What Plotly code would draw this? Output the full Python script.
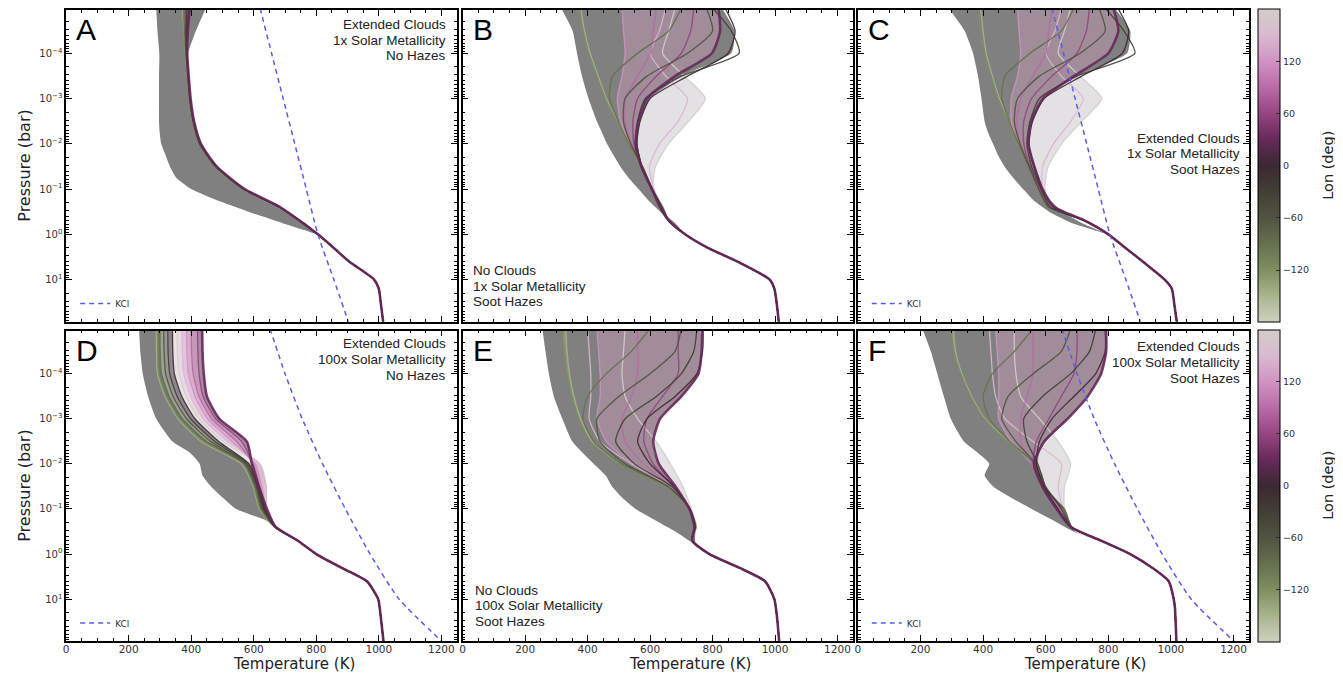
import plotly.graph_objects as go
from plotly.colors import sample_colorscale, unlabel_rgb

W, H = 1343, 681
OFF = 8  # browser page margin

# ---------------- data ----------------
LON = [-150, -120, -90, -60, -30, 0, 30, 60, 90, 120, 150, 180]
P_UP = [1e-5, 3.2e-5, 1e-4, 3.2e-4, 1e-3, 3.2e-3, 1e-2, 3.2e-2, 0.1, 0.25]
P_DEEP = [0.5, 1.0, 2.0, 4.0, 10.0, 16.0, 32.0, 100.0]
ENV_P = [1e-5, 3.2e-5, 1e-4, 3.2e-4, 1e-3, 3.2e-3, 5.6e-3, 1e-2, 1.8e-2,
         3.2e-2, 5.6e-2, 0.1, 0.18, 0.32, 0.56, 1.0]
KCL_P = [1e-5, 1e-4, 1e-3, 1e-2, 0.1, 1, 10, 100]
KCL_T_1X = [620, 657, 694, 731, 768, 805, 856, 906]
KCL_T_100X = [652, 700, 755, 820, 893, 972, 1065, 1212]

# Panel A: Extended clouds, 1x, no hazes
T_UP_A = [
    [372, 376, 382, 388, 394, 405, 426, 476, 565, 679],
    [368, 374, 381, 387, 393, 404, 425, 475, 564, 678],
    [375, 378, 383, 388, 394, 405, 426, 477, 566, 680],
    [380, 381, 384, 389, 395, 406, 427, 478, 567, 681],
    [385, 384, 385, 390, 396, 407, 428, 479, 568, 681],
    [392, 387, 386, 391, 397, 408, 430, 481, 570, 683],
    [396, 389, 387, 392, 398, 409, 431, 482, 571, 684],
    [390, 386, 386, 391, 397, 408, 430, 481, 570, 683],
    [383, 383, 385, 390, 396, 407, 429, 480, 569, 682],
    [378, 380, 384, 389, 395, 406, 428, 479, 568, 681],
    [374, 378, 383, 389, 395, 406, 427, 478, 567, 680],
    [371, 377, 382, 388, 394, 405, 427, 477, 566, 680],
]
T_DEEP_A = [747, 805, 856, 905, 985, 1000, 1006, 1015]
ENV_LEFT_A = [288, 292, 298, 297, 297, 297, 299, 304, 318, 332, 352, 400, 485, 585, 690, 805]
ENV_RIGHT_A = [447, 415, 390, 390, 396, 407, 415, 428, 448, 478, 515, 567, 630, 705, 765, 805]

# Panel B: no clouds, 1x, soot hazes
T_UP_B = [
    [378, 390, 408, 434, 460, 496, 534, 576, 607, 640],
    [371, 385, 403, 430, 456, 493, 531, 574, 606, 639],
    [700, 660, 560, 480, 470, 498, 533, 575, 607, 640],
    [780, 800, 720, 590, 520, 515, 538, 576, 607, 638],
    [800, 860, 885, 700, 585, 560, 552, 572, 604, 635],
    [840, 872, 850, 720, 600, 568, 558, 574, 606, 634],
    [819, 824, 798, 680, 590, 563, 555, 572, 606, 632],
    [740, 730, 700, 620, 560, 545, 548, 572, 606, 634],
    [620, 610, 600, 560, 520, 520, 540, 574, 606, 636],
    [510, 515, 520, 510, 495, 505, 536, 575, 607, 638],
    [650, 630, 600, 650, 720, 690, 630, 598, 612, 640],
    [680, 660, 640, 710, 777, 723, 659, 617, 610, 642],
]
T_DEEP_B = [660, 712, 785, 880, 983, 998, 1005, 1013]
ENV_LEFT_B = [315, 352, 366, 382, 403, 430, 446, 462, 483, 505, 531, 563, 595, 633, 668, 712]
ENV_RIGHT_B = [830, 870, 860, 700, 600, 568, 560, 560, 566, 575, 590, 608, 622, 640, 680, 712]

# Panel C: extended clouds, 1x, soot hazes
T_UP_C = [
    [392, 400, 410, 430, 452, 484, 515, 546, 578, 610],
    [384, 392, 405, 426, 448, 480, 512, 544, 576, 608],
    [690, 650, 550, 470, 460, 484, 514, 545, 577, 610],
    [770, 790, 710, 580, 510, 500, 518, 548, 578, 610],
    [790, 850, 885, 700, 580, 550, 540, 555, 585, 615],
    [830, 865, 845, 715, 595, 558, 547, 562, 588, 625],
    [816, 832, 800, 690, 592, 553, 545, 564, 590, 628],
    [740, 730, 700, 620, 555, 530, 530, 550, 582, 622],
    [620, 610, 600, 560, 520, 508, 518, 546, 578, 615],
    [510, 515, 520, 510, 490, 490, 514, 545, 577, 612],
    [650, 630, 600, 650, 720, 680, 625, 590, 590, 615],
    [680, 660, 640, 710, 779, 715, 651, 608, 597, 618],
]
T_DEEP_C = [725, 800, 855, 910, 980, 1003, 1010, 1020]
ENV_LEFT_C = [290, 341, 368, 384, 395, 405, 416, 432, 448, 469, 496, 528, 562, 612, 683, 800]
ENV_RIGHT_C = [820, 870, 860, 700, 595, 560, 548, 548, 552, 566, 580, 592, 615, 655, 715, 800]

# Panel D: extended clouds, 100x, no hazes
T_UP_D = [
    [288, 289, 292, 316, 358, 432, 560, 598, 618, 666],
    [292, 293, 296, 320, 362, 438, 565, 600, 620, 666],
    [300, 301, 305, 330, 372, 450, 570, 604, 624, 667],
    [312, 313, 318, 342, 385, 462, 575, 608, 628, 668],
    [325, 326, 331, 355, 398, 475, 580, 612, 632, 668],
    [340, 341, 346, 370, 412, 488, 585, 615, 636, 669],
    [435, 436, 440, 450, 490, 578, 594, 616, 642, 670],
    [420, 421, 425, 438, 478, 562, 596, 618, 642, 670],
    [400, 401, 406, 425, 465, 545, 598, 620, 641, 670],
    [385, 386, 391, 412, 452, 530, 605, 625, 640, 670],
    [370, 371, 376, 398, 438, 516, 620, 640, 642, 670],
    [355, 356, 361, 384, 425, 502, 612, 635, 640, 670],
]
T_DEEP_D = [740, 800, 880, 962, 998, 1003, 1008, 1016]
ENV_LEFT_D = [233, 237, 245, 262, 288, 340, 395, 427, 436, 464, 501, 544, 640, 693, 752, 800]
ENV_RIGHT_D = [300, 300, 305, 330, 372, 450, 520, 575, 600, 615, 630, 640, 650, 693, 752, 800]

# Panel E: no clouds, 100x, soot hazes
T_UP_E = [
    [330, 334, 342, 356, 378, 415, 505, 652, 728, 748],
    [319, 325, 335, 350, 372, 410, 500, 650, 726, 746],
    [600, 540, 460, 400, 385, 420, 508, 655, 728, 746],
    [700, 680, 600, 500, 430, 440, 520, 660, 728, 745],
    [750, 740, 700, 620, 520, 490, 550, 670, 728, 744],
    [770, 768, 750, 680, 590, 560, 600, 678, 727, 743],
    [767, 765, 755, 700, 632, 610, 628, 682, 726, 742],
    [690, 690, 690, 640, 590, 580, 610, 676, 726, 743],
    [560, 560, 560, 540, 510, 520, 580, 668, 727, 745],
    [430, 435, 440, 440, 430, 460, 545, 660, 727, 746],
    [400, 405, 410, 410, 405, 440, 540, 665, 728, 747],
    [520, 515, 510, 520, 560, 620, 665, 705, 732, 748],
]
T_DEEP_E = [735, 790, 885, 968, 998, 1003, 1008, 1014]
ENV_LEFT_E = [255, 265, 276, 292, 319, 351, 383, 420, 458, 479, 511, 554, 618, 682, 735, 790]
ENV_RIGHT_E = [760, 768, 755, 700, 630, 608, 612, 628, 650, 682, 705, 726, 742, 745, 745, 790]

# Panel F: extended clouds, 100x, soot hazes
T_UP_F = [
    [305, 312, 332, 364, 406, 482, 565, 586, 660, 684],
    [297, 307, 329, 361, 403, 478, 563, 584, 659, 682],
    [560, 500, 430, 400, 420, 485, 565, 590, 660, 683],
    [680, 650, 560, 480, 460, 505, 568, 595, 655, 682],
    [760, 740, 680, 590, 530, 540, 575, 600, 650, 680],
    [790, 790, 760, 690, 620, 580, 570, 595, 640, 680],
    [793, 793, 777, 734, 670, 595, 563, 590, 635, 680],
    [700, 700, 690, 650, 610, 570, 560, 588, 638, 681],
    [560, 560, 560, 540, 520, 520, 555, 590, 645, 682],
    [440, 445, 450, 450, 450, 490, 555, 592, 650, 683],
    [420, 425, 430, 440, 470, 560, 650, 640, 655, 683],
    [500, 500, 505, 520, 580, 640, 680, 660, 660, 684],
]
T_DEEP_F = [776, 870, 940, 993, 1009, 1013, 1015, 1018]
ENV_LEFT_F = [206, 233, 254, 275, 297, 339, 382, 420, 405, 433, 490, 555, 625, 690, 790, 870]
ENV_RIGHT_F = [790, 795, 777, 734, 670, 600, 580, 575, 590, 600, 630, 660, 672, 695, 800, 870]

PANEL_LETTERS = ["A", "B", "C", "D", "E", "F"]
CONDITIONS = [
    ["Extended Clouds", "1x Solar Metallicity", "No Hazes"],
    ["No Clouds", "1x Solar Metallicity", "Soot Hazes"],
    ["Extended Clouds", "1x Solar Metallicity", "Soot Hazes"],
    ["Extended Clouds", "100x Solar Metallicity", "No Hazes"],
    ["No Clouds", "100x Solar Metallicity", "Soot Hazes"],
    ["Extended Clouds", "100x Solar Metallicity", "Soot Hazes"],
]
Y_TICK_VALS = [1e-4, 1e-3, 1e-2, 1e-1, 1, 10]
Y_TICK_TEXT = ["10<sup>\u22124</sup>", "10<sup>\u22123</sup>", "10<sup>\u22122</sup>",
               "10<sup>\u22121</sup>", "10<sup>0</sup>", "10<sup>1</sup>"]
CB_TICKS = [-120, -60, 0, 60, 120]
CB_TEXT = ["\u2212120", "\u221260", "0", "60", "120"]

LON_SCALE = [
    [0.0, "#cdd2bf"], [0.0833, "#a9b48f"], [0.1667, "#7e8f5f"], [0.25, "#66704f"],
    [0.3333, "#515440"], [0.4167, "#423f35"], [0.5, "#3b2832"], [0.5833, "#66295a"],
    [0.6667, "#954580"], [0.75, "#b96ba6"], [0.8333, "#d093c3"], [0.9167, "#d9b9d0"],
    [1.0, "#d3cec8"],
]

# ---------------- layout geometry (pixels in the screenshot) ----------------
COL_X = [(63.3, 455.0), (460.7, 852.0), (856.7, 1249.0)]
ROW_Y = [(9.0, 321.0), (330.0, 641.0)]
FW, FH = W - OFF, H - 2 * OFF


def px(x):
    return (x - OFF) / FW


def py(y):
    return 1 - (y - OFF) / FH


panels = [
    (T_UP_A, T_DEEP_A, ENV_LEFT_A, ENV_RIGHT_A, KCL_T_1X),
    (T_UP_B, T_DEEP_B, ENV_LEFT_B, ENV_RIGHT_B, None),
    (T_UP_C, T_DEEP_C, ENV_LEFT_C, ENV_RIGHT_C, KCL_T_1X),
    (T_UP_D, T_DEEP_D, ENV_LEFT_D, ENV_RIGHT_D, KCL_T_100X),
    (T_UP_E, T_DEEP_E, ENV_LEFT_E, ENV_RIGHT_E, None),
    (T_UP_F, T_DEEP_F, ENV_LEFT_F, ENV_RIGHT_F, KCL_T_100X),
]

lon_colors = dict(zip(LON, sample_colorscale(LON_SCALE, [(l + 180) / 360 for l in LON])))


def rgba(c, a):
    r, g, b = unlabel_rgb(c)
    return f"rgba({int(r)},{int(g)},{int(b)},{a})"


DRAW_ORDER = [180, 150, -150, 120, -120, 90, -90, 60, -60, -30, 0, 30]
# shaded bands between neighbouring profiles (style only)
PINK = "rgba(215,160,200,0.38)"
LIGHT = "rgba(205,203,205,0.55)"
GREEN = "rgba(150,170,110,0.5)"
UNDER_CHAINS = {1: [([30, 180], LIGHT)], 2: [([30, 180], LIGHT)],
                4: [([30, 180], LIGHT)], 5: [([30, 180], LIGHT)]}
FILL_CHAINS = {
    0: [],
    1: [([120, 30], PINK)],
    2: [([120, 30], PINK)],
    3: [([-150, -120, -90, -60, -30, 0, 180, 150, 120, 90, 60, 30], None)],
    4: [([120, 30], PINK), ([-120, -150], GREEN)],
    5: [([120, 30], PINK), ([-120, -150], GREEN)],
}

fig = go.Figure()
layout = dict(
    width=FW, height=FH, margin=dict(l=0, r=0, t=0, b=0),
    paper_bgcolor="white", plot_bgcolor="white", showlegend=True,
    font=dict(family="DejaVu Sans", color="#222"),
)
annotations = []
legend_names = {0: "legend", 2: "legend2", 3: "legend3", 5: "legend4"}

minor_y = [k * 10 ** e for e in range(-5, 2) for k in range(2, 10)]


def add_chain(chain, fc, tup, tdeep, xa, ya):
    for j, lon in enumerate(chain):
        k = LON.index(lon)
        fig.add_trace(go.Scatter(
            x=tup[k] + tdeep, y=P_UP + P_DEEP, mode="lines",
            line=dict(width=0, shape="spline", smoothing=0.6),
            fill=None if j == 0 else "tonextx",
            fillcolor=fc if fc else rgba(lon_colors[lon], 0.55),
            showlegend=False, hoverinfo="skip", xaxis=xa, yaxis=ya))


for i, (tup, tdeep, envl, envr, kcl) in enumerate(panels):
    row, col = divmod(i, 3)
    n = i + 1
    xa = "x" if n == 1 else f"x{n}"
    ya = "y" if n == 1 else f"y{n}"
    x0, x1 = COL_X[col]
    y0, y1 = ROW_Y[row]

    for chain, fc in UNDER_CHAINS.get(i, []):
        add_chain(chain, fc, tup, tdeep, xa, ya)

    # grey envelope
    fig.add_trace(go.Scatter(
        x=envl + envr[::-1], y=ENV_P + ENV_P[::-1], fill="toself",
        fillcolor="#808080", line=dict(width=0, shape="spline", smoothing=0.5),
        mode="lines", showlegend=False, hoverinfo="skip", xaxis=xa, yaxis=ya))

    for chain, fc in FILL_CHAINS[i]:
        add_chain(chain, fc, tup, tdeep, xa, ya)

    # longitude profiles
    for lon in DRAW_ORDER:
        k = LON.index(lon)
        fig.add_trace(go.Scatter(
            x=tup[k] + tdeep, y=P_UP + P_DEEP, mode="lines",
            line=dict(color=lon_colors[lon], width=2.6 if lon == 30 else 1.3,
                      shape="spline", smoothing=0.6),
            opacity=0.9, showlegend=False, hoverinfo="skip", xaxis=xa, yaxis=ya))

    if kcl is not None:
        fig.add_trace(go.Scatter(
            x=kcl, y=KCL_P, mode="lines", name="KCl",
            line=dict(color="#5b5bea", width=1.5, dash="5px,4px", shape="spline", smoothing=0.6),
            showlegend=True, legend=legend_names[i], hoverinfo="skip", xaxis=xa, yaxis=ya))
        layout[legend_names[i]] = dict(
            x=px(x0 + 9), y=py(y1 - 18), xanchor="left", yanchor="middle",
            bgcolor="rgba(0,0,0,0)", borderwidth=0, itemwidth=30,
            font=dict(size=9, family="DejaVu Sans", color="#333"))

    xkey = "xaxis" if n == 1 else f"xaxis{n}"
    ykey = "yaxis" if n == 1 else f"yaxis{n}"
    layout[xkey] = dict(
        domain=[px(x0), px(x1)], anchor=ya, range=[0, 1250],
        showline=True, linecolor="black", linewidth=1.5, mirror="ticks",
        ticks="inside", ticklen=6, tickwidth=1, tickcolor="black",
        tick0=0, dtick=200, showticklabels=(row == 1), ticklabelstandoff=-2,
        tickfont=dict(family="DejaVu Sans", size=10.5, color="#333"),
        minor=dict(ticks="inside", ticklen=3, tickwidth=1, tickcolor="black", dtick=50, showgrid=False),
        showgrid=False, zeroline=False)
    layout[ykey] = dict(
        domain=[py(y1), py(y0)], anchor=xa, type="log", range=[1.927, -4.956],
        showline=True, linecolor="black", linewidth=1.5, mirror="ticks",
        ticks="inside", ticklen=6, tickwidth=1, tickcolor="black",
        tickmode="array", tickvals=Y_TICK_VALS, ticktext=Y_TICK_TEXT,
        showticklabels=(col == 0),
        tickfont=dict(family="DejaVu Sans", size=10, color="#333"),
        minor=dict(ticks="inside", ticklen=3, tickwidth=1, tickcolor="black",
                   tickmode="array", tickvals=minor_y, showgrid=False),
        showgrid=False, zeroline=False)

    annotations.append(dict(
        text=PANEL_LETTERS[i], x=px(x0 + 8), y=py(y0 + 20), xref="paper", yref="paper",
        xanchor="left", yanchor="middle", showarrow=False,
        font=dict(family="Liberation Sans", size=30, color="black")))

COND_POS = [
    (446, 23.5, "right"), (469.5, 270, "left"), (1242, 137.5, "right"),
    (446, 343.5, "right"), (471.5, 590, "left"), (1242, 346.5, "right"),
]
for i, lines in enumerate(CONDITIONS):
    ax, ay, al = COND_POS[i]
    for j, t in enumerate(lines):
        annotations.append(dict(
            text=t, x=px(ax), y=py(ay + 15.6 * j), xref="paper", yref="paper",
            xanchor=al, yanchor="middle", showarrow=False,
            font=dict(family="Liberation Sans", size=13.5, color="#222")))

for row in range(2):
    y0, y1 = ROW_Y[row]
    annotations.append(dict(
        text="Pressure (bar)", x=px(22), y=py((y0 + y1) / 2), xref="paper", yref="paper",
        xanchor="center", yanchor="middle", textangle=-90, showarrow=False,
        font=dict(family="DejaVu Sans", size=16, color="#222")))
    annotations.append(dict(
        text="Lon (deg)", x=px(1328), y=py((y0 + y1) / 2), xref="paper", yref="paper",
        xanchor="center", yanchor="middle", textangle=-90, showarrow=False,
        font=dict(family="DejaVu Sans", size=14.5, color="#222")))
for col in range(3):
    x0, x1 = COL_X[col]
    annotations.append(dict(
        text="Temperature (K)", x=px((x0 + x1) / 2 + 32), y=py(664), xref="paper", yref="paper",
        xanchor="center", yanchor="middle", showarrow=False,
        font=dict(family="DejaVu Sans", size=15, color="#222")))

for row in range(2):
    y0, y1 = ROW_Y[row]
    n = 3 if row == 0 else 6
    fig.add_trace(go.Scatter(
        x=[None], y=[None], mode="markers", showlegend=False, hoverinfo="skip",
        xaxis=f"x{n}", yaxis=f"y{n}",
        marker=dict(color=[0], colorscale=LON_SCALE, cmin=-180, cmax=180, showscale=True,
                    colorbar=dict(
                        x=px(1258), xanchor="left", y=py((y0 + y1) / 2), yanchor="middle",
                        len=y1 - y0 + 1, lenmode="pixels", thickness=22, thicknessmode="pixels",
                        outlinewidth=1, outlinecolor="black", xpad=0, ypad=0,
                        ticks="inside", ticklen=4, tickcolor="#333",
                        tickmode="array", tickvals=CB_TICKS, ticktext=CB_TEXT,
                        tickfont=dict(family="DejaVu Sans", size=9.5, color="#333")))))

layout["annotations"] = annotations
fig.update_layout(**layout)
fig.write_html("out.html")
